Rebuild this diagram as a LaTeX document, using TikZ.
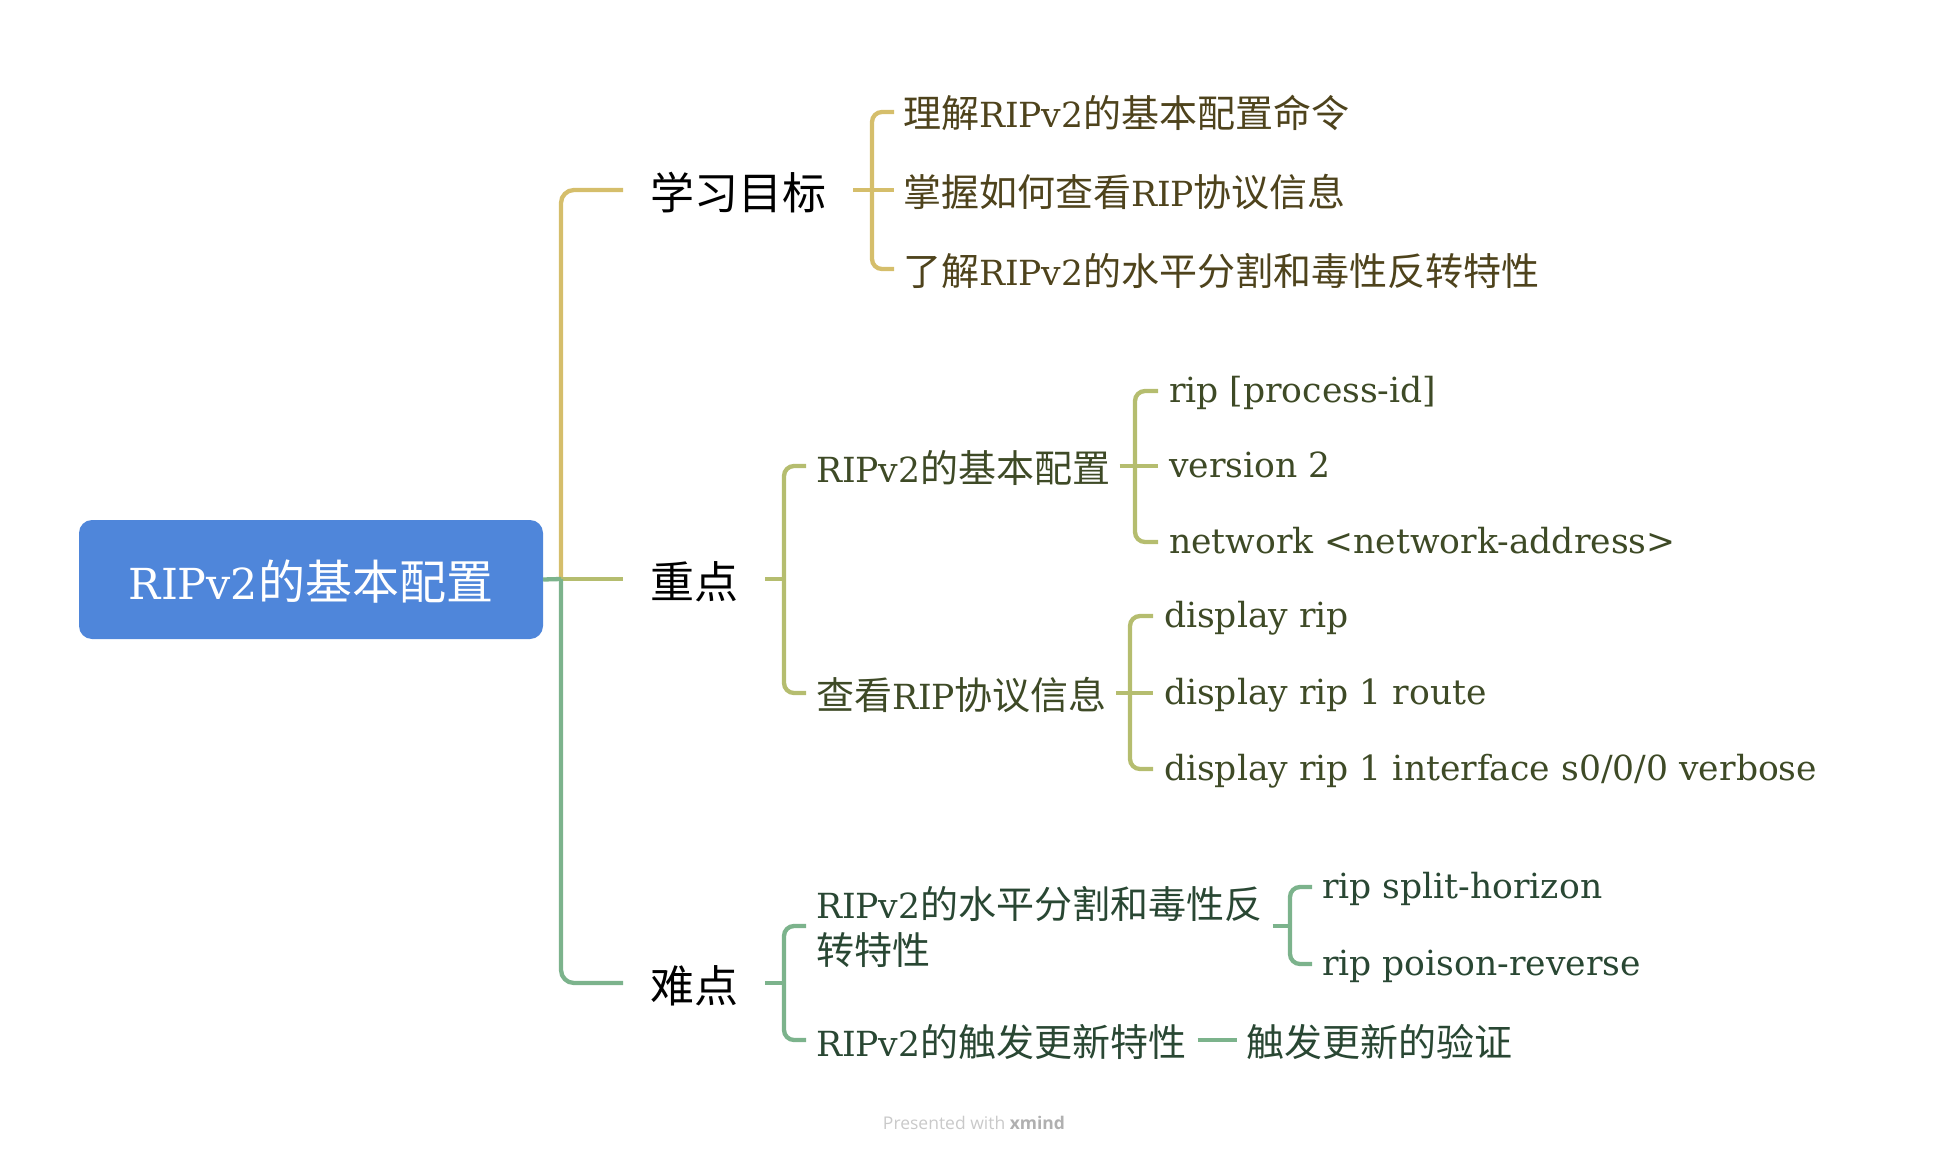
\documentclass[tikz,border=0pt]{standalone}
\usepackage{fontspec}
\setmainfont{DejaVu Serif}[Scale=0.91]
\newfontfamily\cjk{Noto Sans CJK SC}
\newfontfamily\footfont{Open Sans}
\usetikzlibrary{calc}
\definecolor{cBlue}{HTML}{4F86DA}
\definecolor{cGold}{HTML}{D5BE6B}
\definecolor{cOlive}{HTML}{B5BD6F}
\definecolor{cGreen}{HTML}{7CB38C}
\definecolor{cGoldTxt}{HTML}{4E431C}
\definecolor{cOliveTxt}{HTML}{3E4A26}
\definecolor{cGreenTxt}{HTML}{294733}
\definecolor{cFoot}{HTML}{C9C9C9}
\definecolor{cFootB}{HTML}{B0B0B0}
\newcommand\Z[1]{{\cjk #1}}
\begin{document}
\begin{tikzpicture}[x=1pt,y=-1pt,
  ln/.style={line width=4.3pt},
  goldln/.style={ln,draw=cGold},
  oliveln/.style={ln,draw=cOlive},
  greenln/.style={ln,draw=cGreen},
  rootbox/.style={rectangle,rounded corners=13pt,fill=cBlue,text=white,inner sep=0pt,
     minimum width=464pt,minimum height=119pt,text height=40pt,text depth=0pt,
     font=\fontsize{47}{56}\selectfont},
  lvone/.style={inner sep=0pt,outer sep=0pt,anchor=west,text height=39pt,text depth=0pt,
     font=\fontsize{44}{52}\selectfont\cjk,text=black},
  leafm/.style={inner sep=0pt,outer sep=0pt,anchor=west,text height=32pt,text depth=0pt,
     font=\fontsize{38}{46.5}\selectfont},
  leafl/.style={inner sep=0pt,outer sep=0pt,anchor=west,text height=22pt,text depth=0pt,
     font=\fontsize{38}{46.5}\selectfont},
]
\useasboundingbox (0,0) rectangle (1939,1153);

% coordinates
\coordinate (trunk) at (561,579);
\coordinate (xuexi-in) at (623,190);
\coordinate (zhong-in) at (623,579);
\coordinate (nan-in) at (623,983);
\coordinate (xuexi-v) at (872,190);
\coordinate (g1-in) at (894,112);
\coordinate (g2-in) at (894,190);
\coordinate (g3-in) at (894,269);
\coordinate (zhong-v) at (784,579);
\coordinate (o1-in) at (806,466);
\coordinate (o2-in) at (806,693);
\coordinate (jb-v) at (1135,466);
\coordinate (jb1-in) at (1158,391);
\coordinate (jb2-in) at (1158,466);
\coordinate (jb3-in) at (1158,542);
\coordinate (ck-v) at (1130,693);
\coordinate (ck1-in) at (1153,616);
\coordinate (ck2-in) at (1153,693);
\coordinate (ck3-in) at (1153,769);
\coordinate (nan-v) at (784,983);
\coordinate (n1-in) at (806,926);
\coordinate (n2-in) at (806,1040);
\coordinate (sp-v) at (1290,926);
\coordinate (sp1-in) at (1312,887);
\coordinate (sp2-in) at (1312,964);
\coordinate (cf1-in) at (1237,1040);

% root
\node[rootbox] (root) at (311,579.5) {RIPv2\Z{的基本配置}};

% level 1
\node[lvone] (xuexi) at ($(xuexi-in)+(27,0)$) {学习目标};
\node[lvone] (zhong) at ($(zhong-in)+(27,0)$) {重点};
\node[lvone] (nan) at ($(nan-in)+(27,0)$) {难点};

% 学习目标 children
\node[leafm,text=cGoldTxt] (g1) at ($(g1-in)+(9,0)$) {\Z{理解}RIPv2\Z{的基本配置命令}};
\node[leafm,text=cGoldTxt] (g2) at ($(g2-in)+(9,0)$) {\Z{掌握如何查看}RIP\Z{协议信息}};
\node[leafm,text=cGoldTxt] (g3) at ($(g3-in)+(9,0)$) {\Z{了解}RIPv2\Z{的水平分割和毒性反转特性}};

% 重点 children
\node[leafm,text=cOliveTxt] (o1) at ($(o1-in)+(10,0)$) {RIPv2\Z{的基本配置}};
\node[leafm,text=cOliveTxt] (o2) at ($(o2-in)+(10,0)$) {\Z{查看}RIP\Z{协议信息}};
\node[leafl,text=cOliveTxt] (jb1) at ($(jb1-in)+(11,0)$) {rip [process-id]};
\node[leafl,text=cOliveTxt] (jb2) at ($(jb2-in)+(11,0)$) {version 2};
\node[leafl,text=cOliveTxt] (jb3) at ($(jb3-in)+(11,0)$) {network <network-address>};
\node[leafl,text=cOliveTxt] (ck1) at ($(ck1-in)+(11,0)$) {display rip};
\node[leafl,text=cOliveTxt] (ck2) at ($(ck2-in)+(11,0)$) {display rip 1 route};
\node[leafl,text=cOliveTxt] (ck3) at ($(ck3-in)+(11,0)$) {display rip 1 interface s0/0/0 verbose};

% 难点 children
\node[anchor=base west,inner sep=0pt,outer sep=0pt,text=cGreenTxt,font=\fontsize{38}{46.5}\selectfont]
  (n1) at ($(n1-in)+(10,-7.6)$) {\vtop{\hbox{RIPv2\Z{的水平分割和毒性反}}\hbox{\Z{转特性}}}};
\node[leafm,text=cGreenTxt] (n2) at ($(n2-in)+(10,0)$) {RIPv2\Z{的触发更新特性}};
\node[leafl,text=cGreenTxt] (sp1) at ($(sp1-in)+(10,0)$) {rip split-horizon};
\node[leafl,text=cGreenTxt] (sp2) at ($(sp2-in)+(10,0)$) {rip poison-reverse};
\node[leafm,text=cGreenTxt] (cf1) at ($(cf1-in)+(9,0)$) {\Z{触发更新的验证}};

% out points
\coordinate (xuexi-out) at ($(xuexi.east)+(27,0)$);
\coordinate (zhong-out) at ($(zhong.east)+(27,0)$);
\coordinate (nan-out) at ($(nan.east)+(27,0)$);
\coordinate (o1-out) at ($(o1.east)+(9,0)$);
\coordinate (o2-out) at ($(o2.east)+(9,0)$);
\coordinate (n1-out) at ($(n1.east |- n1-in)+(10,0)$);
\coordinate (n2-out) at ($(n2.east)+(11,0)$);

% trunk
\draw[goldln,rounded corners=13pt] (trunk) |- (xuexi-in);
\draw[oliveln] (trunk) -- (zhong-in);
\draw[greenln,rounded corners=13pt] (trunk) |- (nan-in);
\draw[greenln] (root.east) -- (trunk);

% 学习目标 bracket
\draw[goldln] (xuexi-out) -- (g2-in);
\draw[goldln,rounded corners=10pt] (g1-in) -| (xuexi-v) |- (g3-in);

% 重点 bracket
\draw[oliveln] (zhong-out) -- (zhong-v);
\draw[oliveln,rounded corners=10pt] (o1-in) -| (zhong-v) |- (o2-in);
\draw[oliveln] (o1-out) -- (jb2-in);
\draw[oliveln,rounded corners=10pt] (jb1-in) -| (jb-v) |- (jb3-in);
\draw[oliveln] (o2-out) -- (ck2-in);
\draw[oliveln,rounded corners=10pt] (ck1-in) -| (ck-v) |- (ck3-in);

% 难点 bracket
\draw[greenln] (nan-out) -- (nan-v);
\draw[greenln,rounded corners=10pt] (n1-in) -| (nan-v) |- (n2-in);
\draw[greenln] (n1-out) -- (sp-v);
\draw[greenln,rounded corners=10pt] (sp1-in) -| (sp-v) |- (sp2-in);
\draw[greenln] (n2-out) -- (cf1-in);

% footer
\node[font=\footfont\fontsize{17.5}{20}\selectfont,text=cFoot,inner sep=0pt] (foot) at (974,1123)
  {Presented with {\bfseries\color{cFootB}xmind}};
\end{tikzpicture}
\end{document}
